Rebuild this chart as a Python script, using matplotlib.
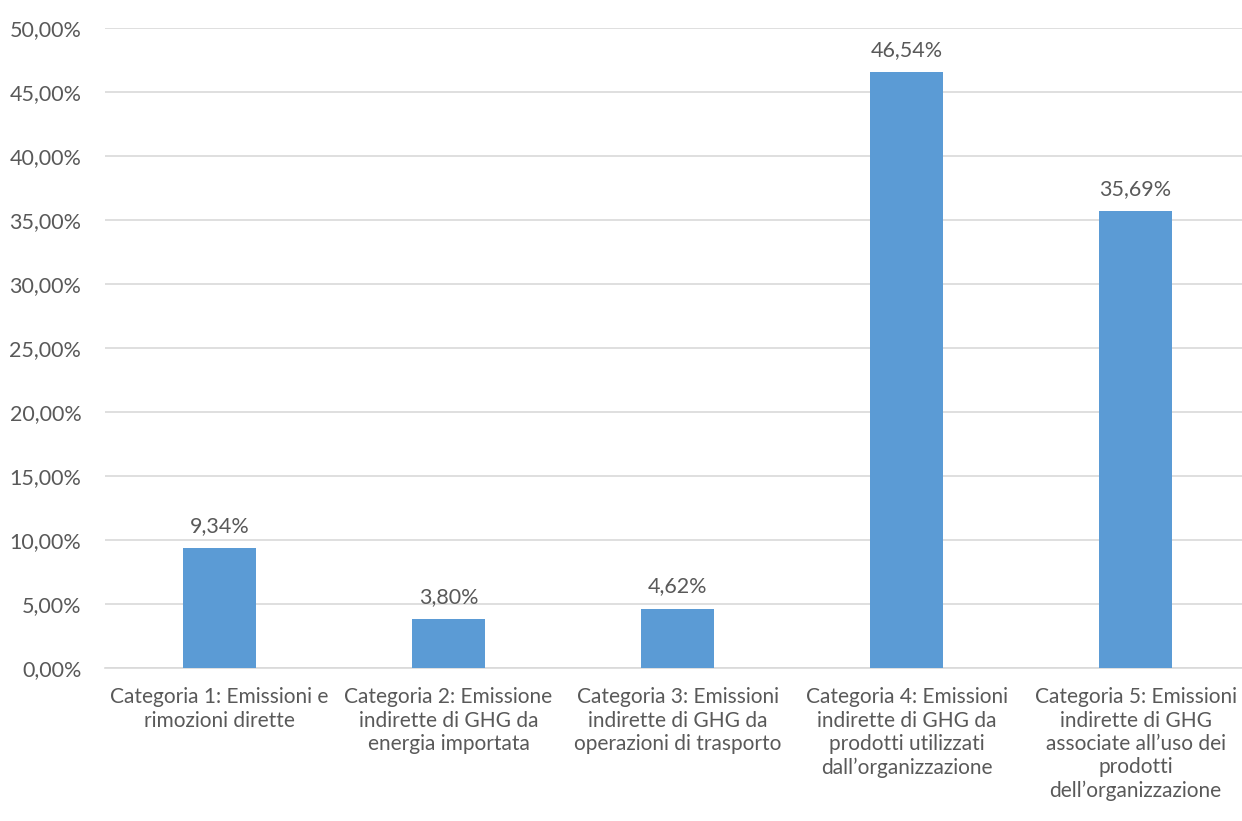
import matplotlib
matplotlib.use('Agg')
import matplotlib.pyplot as plt
import numpy as np

# dati
categorie = [
    "Categoria 1: Emissioni e\nrimozioni dirette",
    "Categoria 2: Emissione\nindirette di GHG da\nenergia importata",
    "Categoria 3: Emissioni\nindirette di GHG da\noperazioni di trasporto",
    "Categoria 4: Emissioni\nindirette di GHG da\nprodotti utilizzati\ndall\u2019organizzazione",
    "Categoria 5: Emissioni\nindirette di GHG\nassociate all\u2019uso dei\nprodotti\ndell\u2019organizzazione",
]
valori = [9.34, 3.80, 4.62, 46.54, 35.69]
y_ticks = [0, 5, 10, 15, 20, 25, 30, 35, 40, 45, 50]

def pct(v):
    return "{:.2f}%".format(v).replace(".", ",")

plt.rcParams['font.family'] = ['Lato', 'DejaVu Sans']
grigio = '#595959'

fig = plt.figure(figsize=(12.42, 8.21), dpi=100)
ax = fig.add_axes([0.0845, 0.1864, 0.922, 0.7795])

x = np.arange(len(valori))
bars = ax.bar(x, valori, width=0.315, color='#5B9BD5', zorder=3)
for b, v in zip(bars, valori):
    ax.annotate(pct(v), (b.get_x() + b.get_width() / 2, v), xytext=(0, 9),
                textcoords='offset points', ha='center', va='bottom',
                fontsize=15.5, color=grigio)

ax.set_xlim(-0.5, 4.5)
ax.set_ylim(0, 50)
ax.set_yticks(y_ticks)
ax.set_yticklabels([pct(t) for t in y_ticks])
ax.set_xticks(x)
ax.set_xticklabels(categorie, linespacing=1.21)
ax.tick_params(axis='both', length=0, labelsize=15.5, colors=grigio)
ax.tick_params(axis='x', labelsize=15)
ax.tick_params(axis='y', pad=17)
ax.tick_params(axis='x', pad=14)
ax.yaxis.grid(True, color='#D9D9D9', linewidth=1.2, zorder=0)
for s in ['top', 'right', 'left']:
    ax.spines[s].set_visible(False)
ax.spines['bottom'].set_color('#D9D9D9')
ax.spines['bottom'].set_linewidth(1.2)

fig.savefig('out.png', dpi=100)
